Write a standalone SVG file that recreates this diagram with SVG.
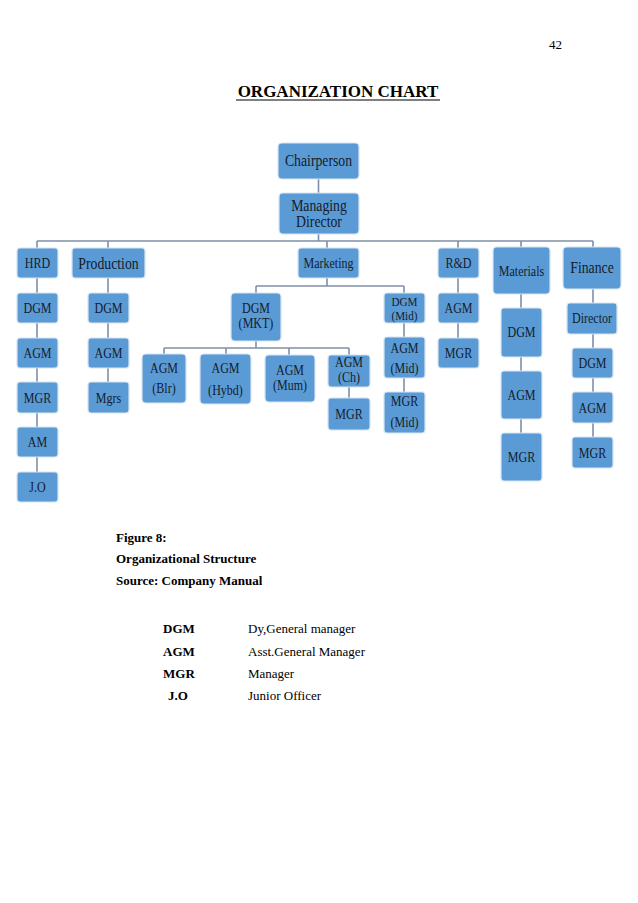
<svg xmlns="http://www.w3.org/2000/svg" width="638" height="903" viewBox="0 0 638 903">
<style>
.b{fill:#5b9bd5;stroke:#d6e4f3;stroke-width:1.2}
.t{font-family:"Liberation Serif","Times New Roman",serif;font-size:14px;fill:#141c2c;text-anchor:middle}
.l{font-size:16px}
.s{font-size:13px}
.c{stroke:#7d90a8;stroke-width:1.6;fill:none}
.p{font-family:"Liberation Serif","Times New Roman",serif;fill:#000}
.pb{font-weight:bold;font-size:13px}
.pr{font-size:13px}
</style>
<rect width="638" height="903" fill="#fff"/>
<text class="p" x="562" y="49" font-size="13" text-anchor="end">42</text>
<text class="p" x="338" y="97" font-size="17" font-weight="bold" text-anchor="middle">ORGANIZATION CHART</text>
<line x1="236" y1="100" x2="440" y2="100" stroke="#000" stroke-width="1.2"/>

<g id="connectors" class="c">
<path d="M318.5 179V193M318.5 234V241M37 241H593"/>
<path d="M37 241V248M108 241V248M327 241V248M458 241V248M521 241V247M593 241V247"/>
<path d="M37 278V293M37 323V338M37 368V382M37 413V427M37 457V472"/>
<path d="M108 278V293M108 323V338M108 368V382"/>
<path d="M327 278V286M256 286H404M256 286V293M404 286V293"/>
<path d="M256 341V348M164 348H349M164 348V354M226 348V354M289 348V355M349 348V355M349 387V398"/>
<path d="M404 323V337M404 378V392"/>
<path d="M458 278V293M458 323V338"/>
<path d="M521 294V308M521 357V371M521 419V433"/>
<path d="M593 289V303M593 334V348M593 378V392M593 423V437"/>
</g>

<g id="chairperson"><rect class="b" x="278" y="143" width="81" height="36" rx="4"/><text class="t l" transform="translate(318.5,166) scale(.86 1)">Chairperson</text></g>
<g id="md"><rect class="b" x="279" y="193" width="80" height="41" rx="4"/><text class="t l" transform="translate(319,211) scale(.86 1)">Managing</text><text class="t l" transform="translate(319,227) scale(.86 1)">Director</text></g>

<g id="hrd"><rect class="b" x="17" y="248" width="41" height="30" rx="3"/><text class="t" transform="translate(37.5,268) scale(.86 1)">HRD</text></g>
<g id="hrd-dgm"><rect class="b" x="17" y="293" width="41" height="30" rx="3"/><text class="t" transform="translate(37.5,313) scale(.86 1)">DGM</text></g>
<g id="hrd-agm"><rect class="b" x="17" y="338" width="41" height="30" rx="3"/><text class="t" transform="translate(37.5,358) scale(.86 1)">AGM</text></g>
<g id="hrd-mgr"><rect class="b" x="17" y="382" width="41" height="31" rx="3"/><text class="t" transform="translate(37.5,402.5) scale(.86 1)">MGR</text></g>
<g id="hrd-am"><rect class="b" x="17" y="427" width="41" height="30" rx="3"/><text class="t" transform="translate(37.5,447) scale(.86 1)">AM</text></g>
<g id="hrd-jo"><rect class="b" x="17" y="472" width="41" height="30" rx="3"/><text class="t" transform="translate(37.5,492) scale(.86 1)">J.O</text></g>

<g id="production"><rect class="b" x="72" y="248" width="73" height="30" rx="3"/><text class="t l" transform="translate(108.5,268.5) scale(.86 1)">Production</text></g>
<g id="prod-dgm"><rect class="b" x="88" y="293" width="41" height="30" rx="3"/><text class="t" transform="translate(108.5,313) scale(.86 1)">DGM</text></g>
<g id="prod-agm"><rect class="b" x="88" y="338" width="41" height="30" rx="3"/><text class="t" transform="translate(108.5,358) scale(.86 1)">AGM</text></g>
<g id="prod-mgrs"><rect class="b" x="88" y="382" width="41" height="31" rx="3"/><text class="t" transform="translate(108.5,402.5) scale(.86 1)">Mgrs</text></g>

<g id="marketing"><rect class="b" x="298" y="248" width="61" height="30" rx="3"/><text class="t" transform="translate(328.5,268) scale(.86 1)">Marketing</text></g>
<g id="dgm-mkt"><rect class="b" x="231" y="293" width="50" height="48" rx="4"/><text class="t" transform="translate(256,313) scale(.86 1)">DGM</text><text class="t" transform="translate(256,328) scale(.86 1)">(MKT)</text></g>
<g id="agm-blr"><rect class="b" x="142" y="354" width="44" height="49" rx="4"/><text class="t" transform="translate(164,373) scale(.86 1)">AGM</text><text class="t" transform="translate(164,393) scale(.86 1)">(Blr)</text></g>
<g id="agm-hybd"><rect class="b" x="200" y="354" width="51" height="50" rx="4"/><text class="t" transform="translate(225.5,373) scale(.86 1)">AGM</text><text class="t" transform="translate(225.5,395) scale(.86 1)">(Hybd)</text></g>
<g id="agm-mum"><rect class="b" x="265" y="355" width="50" height="47" rx="4"/><text class="t" transform="translate(290,375) scale(.86 1)">AGM</text><text class="t" transform="translate(290,390) scale(.86 1)">(Mum)</text></g>
<g id="agm-ch"><rect class="b" x="328" y="355" width="42" height="32" rx="3"/><text class="t" transform="translate(349,367) scale(.86 1)">AGM</text><text class="t" transform="translate(349,382) scale(.86 1)">(Ch)</text></g>
<g id="mgr-ch"><rect class="b" x="328" y="398" width="42" height="32" rx="3"/><text class="t" transform="translate(349,419) scale(.86 1)">MGR</text></g>
<g id="dgm-mid"><rect class="b" x="384" y="293" width="41" height="30" rx="3"/><text class="t s" transform="translate(404.5,306) scale(.86 1)">DGM</text><text class="t s" transform="translate(404.5,320) scale(.86 1)">(Mid)</text></g>
<g id="agm-mid"><rect class="b" x="384" y="337" width="41" height="41" rx="3"/><text class="t" transform="translate(404.5,353) scale(.86 1)">AGM</text><text class="t" transform="translate(404.5,373) scale(.86 1)">(Mid)</text></g>
<g id="mgr-mid"><rect class="b" x="384" y="392" width="41" height="41" rx="3"/><text class="t" transform="translate(404.5,406) scale(.86 1)">MGR</text><text class="t" transform="translate(404.5,427) scale(.86 1)">(Mid)</text></g>

<g id="rd"><rect class="b" x="438" y="248" width="41" height="30" rx="3"/><text class="t" transform="translate(458.5,268) scale(.86 1)">R&amp;D</text></g>
<g id="rd-agm"><rect class="b" x="438" y="293" width="41" height="30" rx="3"/><text class="t" transform="translate(458.5,313) scale(.86 1)">AGM</text></g>
<g id="rd-mgr"><rect class="b" x="438" y="338" width="41" height="30" rx="3"/><text class="t" transform="translate(458.5,358) scale(.86 1)">MGR</text></g>

<g id="materials"><rect class="b" x="493" y="247" width="57" height="47" rx="4"/><text class="t" transform="translate(521.5,276) scale(.86 1)">Materials</text></g>
<g id="mat-dgm"><rect class="b" x="501" y="308" width="41" height="49" rx="3"/><text class="t" transform="translate(521.5,337) scale(.86 1)">DGM</text></g>
<g id="mat-agm"><rect class="b" x="501" y="371" width="41" height="48" rx="3"/><text class="t" transform="translate(521.5,400) scale(.86 1)">AGM</text></g>
<g id="mat-mgr"><rect class="b" x="501" y="433" width="41" height="48" rx="3"/><text class="t" transform="translate(521.5,462) scale(.86 1)">MGR</text></g>

<g id="finance"><rect class="b" x="563" y="247" width="58" height="42" rx="4"/><text class="t l" transform="translate(592,273) scale(.86 1)">Finance</text></g>
<g id="fin-director"><rect class="b" x="567" y="303" width="50" height="31" rx="3"/><text class="t" transform="translate(592,323) scale(.86 1)">Director</text></g>
<g id="fin-dgm"><rect class="b" x="572" y="348" width="41" height="30" rx="3"/><text class="t" transform="translate(592.5,368) scale(.86 1)">DGM</text></g>
<g id="fin-agm"><rect class="b" x="572" y="392" width="41" height="31" rx="3"/><text class="t" transform="translate(592.5,412.5) scale(.86 1)">AGM</text></g>
<g id="fin-mgr"><rect class="b" x="572" y="437" width="41" height="31" rx="3"/><text class="t" transform="translate(592.5,457.5) scale(.86 1)">MGR</text></g>

<g id="caption">
<text class="p pb" x="116" y="542">Figure 8:</text>
<text class="p pb" x="116" y="563">Organizational Structure</text>
<text class="p pb" x="116" y="585">Source: Company Manual</text>
</g>
<g id="legend">
<text class="p pb" x="163" y="633">DGM</text><text class="p pr" x="248" y="633">Dy,General manager</text>
<text class="p pb" x="163" y="656">AGM</text><text class="p pr" x="248" y="656">Asst.General Manager</text>
<text class="p pb" x="163" y="678">MGR</text><text class="p pr" x="248" y="678">Manager</text>
<text class="p pb" x="168" y="700">J.O</text><text class="p pr" x="248" y="700">Junior Officer</text>
</g>
</svg>
